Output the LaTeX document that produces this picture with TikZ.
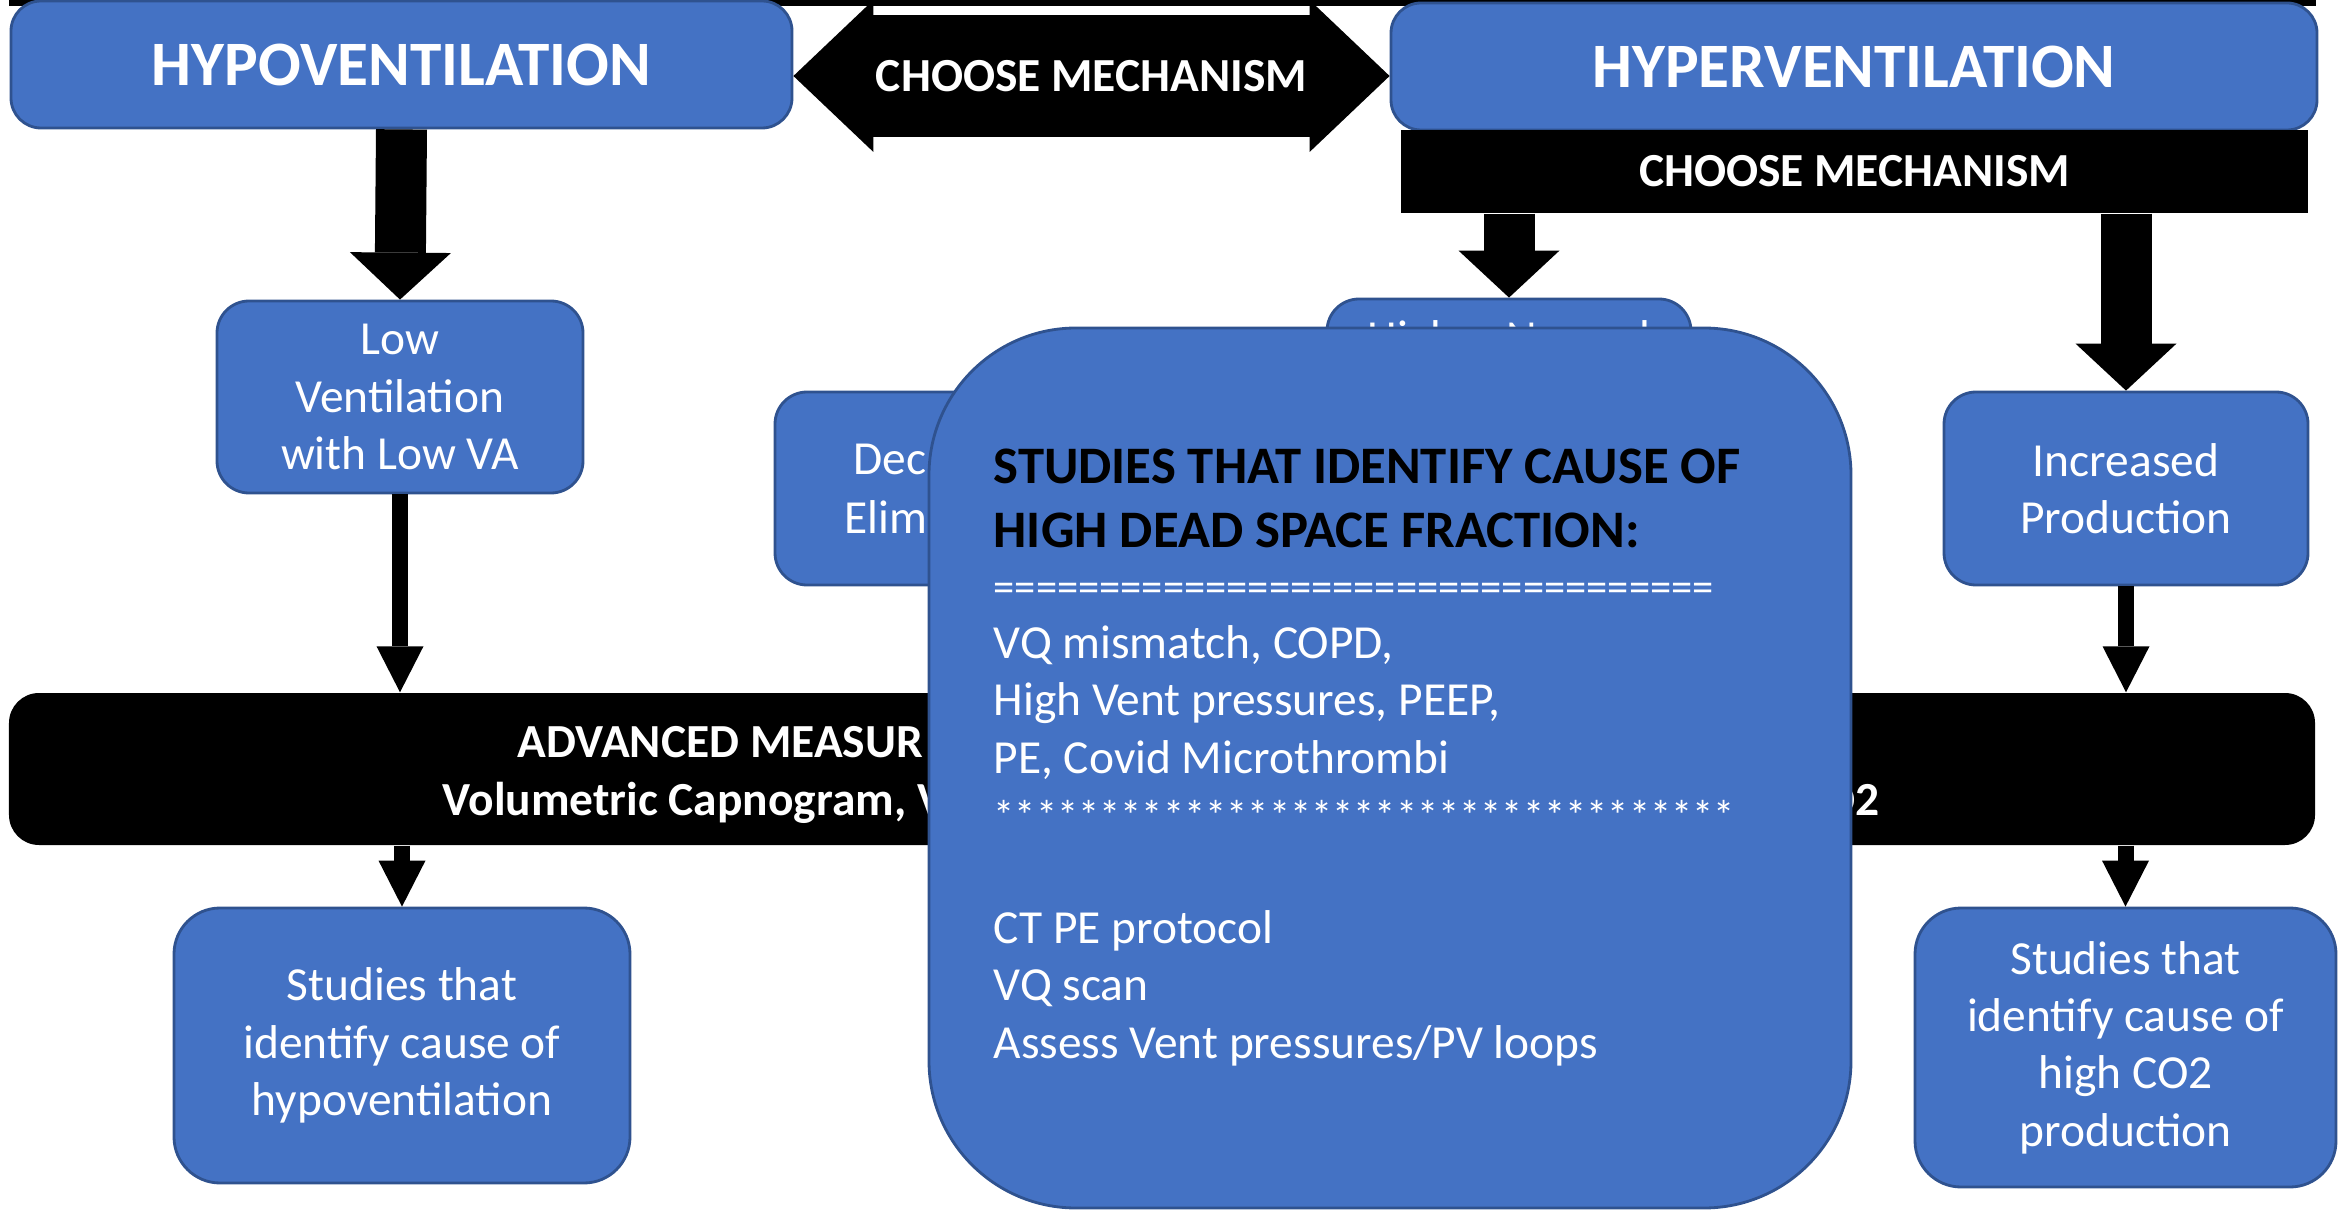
\documentclass[tikz,border=0pt]{standalone}
\usepackage{fontspec}
\setmainfont{Carlito}
\usetikzlibrary{arrows.meta}
\definecolor{boxblue}{HTML}{4472C4}
\definecolor{boxedge}{HTML}{2F528F}

\newcommand{\headfont}{\fontsize{18.0}{21}\selectfont\bfseries}
\newcommand{\barfont}{\fontsize{13.5}{16.5}\selectfont\bfseries}
\newcommand{\boxfont}{\fontsize{13.5}{16.3}\selectfont}
\newcommand{\deadfont}{\fontsize{15.0}{18.5}\selectfont\bfseries}
\newcommand{\rulefont}{\fontsize{12.1}{16.3}\selectfont}

\begin{document}
\begin{tikzpicture}[
    bluebox/.style={rectangle, draw=boxedge, line width=0.8pt, fill=boxblue,
      text=white, align=center, font=\boxfont, inner sep=0pt},
    headbox/.style={bluebox, font=\headfont, rounded corners=0.3cm},
    blackbar/.style={rectangle, fill=black, text=white, font=\barfont,
      inner sep=0pt},
    bartext/.style={inner sep=0pt, text=white, font=\barfont},
    boxtext/.style={inner sep=0pt, text=white, font=\boxfont},
    fat/.style={line width=0.51cm,
      -{Triangle[length=0.47cm, width=1.01cm, line width=0pt]}},
    slim/.style={line width=0.16cm,
      -{Triangle[length=0.46cm, width=0.47cm, line width=0pt]}},
  ]
  \useasboundingbox (0,0) rectangle (23.38,-12.10);

  % rule along the top edge
  \fill (0.09,0) rectangle (23.16,-0.06);

  % Two main branches
  \node[headbox, minimum width=7.81cm, minimum height=1.27cm] (hypo)
    at (4.015,-0.645) {HYPOVENTILATION};
  \node[headbox, minimum width=9.26cm, minimum height=1.27cm] (hyper)
    at (18.54,-0.665) {HYPERVENTILATION};

  % double arrow between them
  \draw[line width=1.22cm,
    {Triangle[length=0.8cm, width=1.52cm, line width=0pt]}-{Triangle[length=0.8cm, width=1.52cm, line width=0pt]}]
    (hypo.east |- 0,-0.76) -- node[bartext] (choose) {CHOOSE MECHANISM}
    (hyper.west |- 0,-0.76);

  \node[blackbar, minimum width=9.07cm, minimum height=0.83cm] (mech)
    at (18.545,-1.715) {CHOOSE MECHANISM};

  % Mechanisms
  \node[bluebox, minimum width=3.66cm, minimum height=1.92cm,
    rounded corners=0.32cm] (lowva) at (4.00,-3.97)
    {Low\\Ventilation\\with Low VA};
  \node[bluebox, minimum width=3.65cm, minimum height=1.93cm,
    rounded corners=0.32cm] (decel) at (9.575,-4.885) {};
  \node[boxtext, anchor=base west] (dectxt) at (8.53,-4.75) {Dec};
  \node[boxtext, anchor=base west] (elimtxt) at (8.44,-5.33) {Elim};
  \node[bluebox, minimum width=3.64cm, minimum height=1.92cm,
    rounded corners=0.32cm] (higher) at (15.09,-3.95) {};
  \node[boxtext, anchor=base] (hightxt) at (15.09,-3.54) {Higher Normal};
  \node[bluebox, minimum width=3.64cm, minimum height=1.93cm,
    rounded corners=0.32cm] (incprod) at (21.26,-4.885)
    {Increased\\Production};

  \draw[fat] (hypo.south) -- (lowva.north);
  \draw[fat] (mech.south -| higher.north) -- (higher.north);
  \draw[fat] (mech.south -| incprod.north) -- (incprod.north);

  % Measurement bar
  \node[blackbar, minimum width=23.06cm, minimum height=1.52cm,
    rounded corners=0.3cm] (adv) at (11.62,-7.69) {};
  \node[bartext, anchor=base west] (advtop) at (5.17,-7.57) {ADVANCED MEASUR};
  \node[bartext, anchor=base west] (advlow) at (4.42,-8.15)
    {Volumetric Capnogram, V};
  \node[bartext, anchor=base east] (advend) at (18.80,-8.15) {O2};

  \draw[slim] (lowva.south) -- (lowva.south |- adv.north);
  \draw[slim] (incprod.south) -- (incprod.south |- adv.north);

  % Follow-up studies
  \node[bluebox, minimum width=4.56cm, minimum height=2.75cm,
    rounded corners=0.46cm] (studlo) at (4.02,-10.455)
    {Studies that\\identify cause of\\hypoventilation};
  \node[bluebox, minimum width=4.21cm, minimum height=2.79cm,
    rounded corners=0.46cm] (studco) at (21.255,-10.475)
    {Studies that\\identify cause of\\high CO2\\production};

  \draw[slim] (adv.south -| studlo.north) -- (studlo.north);
  \draw[slim] (adv.south -| studco.north) -- (studco.north);

  % Dead space box on top of everything
  \node[bluebox, minimum width=9.22cm, minimum height=8.80cm,
    rounded corners=1.47cm] (deadsp) at (13.90,-7.68) {};
  \node[anchor=north west, inner sep=0pt, align=left, text=white,
    font=\boxfont] (deadtxt) at (9.93,-4.48)
    {{\color{black}\deadfont STUDIES THAT IDENTIFY CAUSE OF}\\[2.0pt]
     {\color{black}\deadfont HIGH DEAD SPACE FRACTION:}\\[-1.0pt]
     {\rulefont ==================================}\\
     VQ mismatch, COPD,\\
     High Vent pressures, PEEP,\\
     PE, Covid Microthrombi\\
     {\rulefont ***********************************}\\[15.9pt]
     CT PE protocol\\
     VQ scan\\
     Assess Vent pressures/PV loops};

\end{tikzpicture}
\end{document}
